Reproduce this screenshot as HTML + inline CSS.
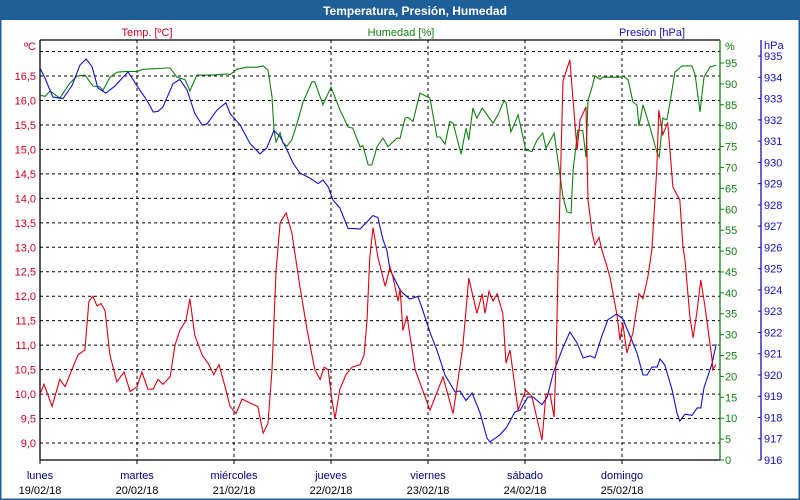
<!DOCTYPE html>
<html><head><meta charset="utf-8"><style>
body{margin:0;background:#fff}
svg{display:block;font-family:"Liberation Sans",sans-serif}
</style></head><body>
<svg id="chart" width="800" height="500" xmlns="http://www.w3.org/2000/svg">
<rect x="0" y="0" width="800" height="500" fill="#fff"/>
<rect x="0" y="0" width="800" height="20" fill="#1f5f99"/>
<rect x="0.5" y="0.5" width="799" height="499" fill="none" stroke="#1f5f99" stroke-width="2"/>
<text x="415" y="15" text-anchor="middle" font-size="12" font-weight="bold" fill="#fff">Temperatura, Presión, Humedad</text>
<text x="147" y="36" text-anchor="middle" font-size="11" fill="#d00020">Temp. [ºC]</text>
<text x="401" y="36" text-anchor="middle" font-size="11" fill="#108010">Humedad [%]</text>
<text x="652" y="36" text-anchor="middle" font-size="11" fill="#1010c0">Presión [hPa]</text>
<g id="grid"></g><g id="axes"></g><g id="series"></g>
</svg>
<script>
const tempHours=[0,1,3,4.9,6.2,7.9,9.4,11.1,12.1,13.1,14.1,15.1,16.1,17.3,19,20.8,22.3,24,25.2,26.7,28,29.2,30.4,32.2,33.4,34.6,36.1,37.1,38.3,40.1,41.8,43,44.3,45.8,47,48.5,50,52.4,53.9,55.2,56.4,57.4,58.4,59.4,60.9,62.3,64.3,66.1,68,69.3,70.3,71.3,72.2,73,74.2,75.7,77.2,79.2,80.2,80.9,81.6,82.4,83.6,85.4,86.6,87.3,88.6,89.1,89.8,90.8,92.8,96.5,99.7,102.2,104.6,106.1,108.1,109.4,110.1,111.1,112.1,113.1,114.5,115.3,116.3,118.3,120.2,121.7,124.2,125.2,126.2,127.2,127.7,128.2,129.4,131.1,131.9,132.9,133.6,135.1,135.6,136.6,137.3,138.3,139,140.3,141,142.8,143.5,144.2,145.2,146.7,148.2,149.2,150.4,151.4,152.6,153.1,154.1,155.3,156.6,158.3,159.1,159.6,160.8,161.6,162.6,163.5,164.5,166.3,166.5,167.2];
const tempValues=[10,10.2,9.75,10.3,10.15,10.5,10.8,10.9,11.9,12,11.8,11.85,11.7,10.8,10.25,10.45,10.05,10.15,10.45,10.1,10.1,10.3,10.2,10.35,11,11.3,11.5,11.95,11.2,10.8,10.6,10.4,10.6,10.15,9.75,9.6,9.9,9.8,9.75,9.2,9.4,10.5,12.5,13.5,13.7,13.3,12.2,11.3,10.5,10.3,10.55,10.5,9.9,9.5,10.1,10.4,10.55,10.6,10.8,11.5,12.8,13.4,12.8,12.2,12.6,12.4,11.9,12.15,11.3,11.6,10.5,9.67,10.35,9.6,10.97,12.37,11.65,12.05,11.65,12.1,11.9,12.05,11.65,10.63,10.9,9.67,10.08,9.95,9.06,10,10,9.53,10.7,12.6,16.4,16.83,16,14.99,15.6,15.87,13.97,13.3,13.05,13.2,12.95,12.6,12.4,11.6,11.1,11.45,10.84,11.25,12.05,11.95,12.4,12.95,14.6,15.8,15.3,15.55,14.23,13.97,13,12.74,11.58,11.15,11.72,12.33,11.8,10.7,10.5,10.6];
const humHours=[0,1.2,2.5,4.9,7.4,9.2,11.1,13.1,14.8,15.6,17.3,19.1,21.5,24,25.5,31.4,32.2,33.9,35.9,37.1,38.8,42.8,46.3,47,48.7,51.2,53.7,55.2,56.4,57.4,57.9,58.4,59.4,60.1,61.1,62.3,63.6,65.1,67.3,68,70,72,74.2,76.2,77.4,79.2,79.9,81.2,82.1,83.4,84.9,86.1,88.3,89.1,90.3,91.1,92.3,94,96.5,98.2,99,100.2,101.4,102.2,104.2,105.4,106.1,107.1,108.1,109.4,112.1,113.3,114.8,115.3,116.5,118.3,120.2,121.7,123,124.4,125.2,127.2,127.9,129.4,130.4,131.4,131.9,133.1,134.3,135.1,135.6,136.6,137.3,138.6,139.3,143.5,144.2,145.5,146.7,147.7,148.2,149.2,150.9,152.7,153.2,154.1,155.1,155.9,157.1,158.8,161.3,162.1,163.3,164.3,165.8,167.3];
const humValues=[87.3,87,88.3,86.6,90.2,91.9,92.1,89.5,89.3,88.5,91.6,92.8,93,93,93.5,93.8,93.8,91.6,91,88.3,92.1,92.1,92.4,92.2,93.5,94,94,94.3,93.3,86.9,79,76.1,78.3,75.9,75.1,76.6,80.6,85.7,90.5,90.5,85,89.2,83.8,79.7,79.4,74.9,75.2,70.6,70.6,75,77,75,77,77,81.8,82,81,87.8,86.6,77.3,77.3,75.6,81,80.6,73.2,79.4,76.6,84.2,81.8,84.2,80.6,82.6,86,85.5,78.5,82.6,74.2,73.8,76.6,78.2,74.6,78.2,73.4,62.9,59.4,59.1,69.4,79,78.8,72.5,86.1,89.3,91.9,91.1,91.6,91.6,91.9,91,85.7,84.9,79.9,85,79.7,73.4,72.5,81.8,81.4,85.7,92.8,94.3,94.3,92.1,83.3,91.6,94.1,94.5];
const presHours=[0,1.2,3.2,5.7,7.9,9.9,11.4,12.9,14.3,16.3,18.6,20.5,21.8,24,26.5,28,29.2,30.4,32.9,34.6,36.4,38.3,40.1,41.3,43.8,46,47,49.5,51.9,54.4,56.1,57.9,59.4,61.1,62.6,64.3,66.8,68.8,70,71.3,72.5,74.2,76.2,79.2,80.9,82.4,83.6,84.9,85.8,86.6,89.1,89.8,91.5,93.5,94.7,96.5,98.2,100.2,102.7,103.9,105.4,106.9,108.9,110.6,111.3,113.8,115.5,117.5,118.8,120.7,122,124.2,125.5,127,129.4,131.1,132.9,134.4,136.1,137.3,139,140.5,142.7,144.2,146,147.7,149.2,150.2,151.4,152.7,153.4,154.6,156.4,157.6,158.3,159.6,161.3,162.6,163.5,164.3,166.3,167.3];
const presValues=[934.44,933.97,933.07,933,933.6,934.58,934.86,934.5,933.5,933.26,933.6,934,934.25,933.6,932.9,932.37,932.4,932.6,933.7,933.9,933.4,932.3,931.76,931.8,932.46,932.8,932.3,931.76,930.9,930.4,930.67,931.5,931.2,930.6,929.97,929.5,929.26,929,929.17,928.85,928.23,927.85,926.9,926.87,927.2,927.5,927.4,926.35,925.88,924.94,924,923.85,923.57,923.7,923.05,922,921.17,920,919.2,919.25,918.8,919.15,918.2,917.03,916.85,917.18,917.55,918.26,918.35,918.96,918.96,918.6,918.96,920.1,921.3,922.02,921.5,920.8,920.9,920.8,921.83,922.6,922.87,922.63,921.83,921.03,920,920,920.37,920.37,920.75,920.47,919.3,918.2,917.83,918.16,918.1,918.45,918.45,919.4,920.55,921.45];
const dayNames=["lunes","martes","miércoles","jueves","viernes","sábado","domingo"];
const dayDates=["19/02/18","20/02/18","21/02/18","22/02/18","23/02/18","24/02/18","25/02/18"];
const tempTicks=["9,0","9,5","10,0","10,5","11,0","11,5","12,0","12,5","13,0","13,5","14,0","14,5","15,0","15,5","16,0","16,5"];
const humTicks=[0,5,10,15,20,25,30,35,40,45,50,55,60,65,70,75,80,85,90,95];
const presTicks=[916,917,918,919,920,921,922,923,924,925,926,927,928,929,930,931,932,933,934,935];

const NS="http://www.w3.org/2000/svg";
const X0=40,X1=720,Y0=40,Y1=460;
const xs=h=>X0+h*97/24;
const yT=t=>443-(t-9)*48.93;
const yH=v=>460-v*4.179;
const yP=p=>460-(p-916)*21.26;
function mk(tag,attrs,parent){const e=document.createElementNS(NS,tag);for(const k in attrs)e.setAttribute(k,attrs[k]);parent.appendChild(e);return e;}
const grid=document.getElementById('grid'),axes=document.getElementById('axes'),series=document.getElementById('series');

for(let t=9;t<=17.001;t+=0.5){
  const l=mk('line',{x1:X0,x2:X1,y1:yT(t),y2:yT(t),stroke:'#000','stroke-dasharray':'3,3','stroke-width':1},grid);
  
  
}
for(let d=1;d<7;d++){
  const l=mk('line',{x1:xs(d*24),x2:xs(d*24),y1:Y0,y2:Y1,stroke:'#000','stroke-dasharray':'3,3','stroke-width':1},grid);
  
  
}
// frame lines
[[X0,Y0,X1,Y0,'#000'],[X0,Y1,X1,Y1,'#000'],[X0,Y0,X0,Y1,'#000'],[X1,Y0,X1,Y1,'#108010'],[761,40,761,Y1,'#1010c0']].forEach(a=>{
  const l=mk('line',{x1:a[0],y1:a[1],x2:a[2],y2:a[3],stroke:a[4],'stroke-width':1.3},axes);
  
  
});
tempTicks.forEach((s,i)=>{
  const t=mk('text',{x:36,y:yT(9+i*0.5)+4,'text-anchor':'end','font-size':11,fill:'#d00020'},axes);t.textContent=s;
  
  
});
const cu=mk('text',{x:36,y:50,'text-anchor':'end','font-size':11,fill:'#d00020'},axes);cu.textContent='ºC';


humTicks.forEach(v=>{
  const y=yH(v);
  const k=mk('line',{x1:X1,x2:X1+4,y1:y,y2:y,stroke:'#108010'},axes);
  
  
  const t=mk('text',{x:725,y:y+4,'font-size':11,fill:'#108010'},axes);t.textContent=v;
  
  
});
const hu=mk('text',{x:725,y:50,'font-size':11,fill:'#108010'},axes);hu.textContent='%';


presTicks.forEach(v=>{
  const y=yP(v);
  const k=mk('line',{x1:758,x2:761,y1:y,y2:y,stroke:'#1010c0'},axes);
  
  
  const t=mk('text',{x:764,y:y+4,'font-size':11,fill:'#1010c0'},axes);t.textContent=v;
  
  
});
const pu=mk('text',{x:764,y:49,'font-size':11,fill:'#1010c0'},axes);pu.textContent='hPa';


dayNames.forEach((n,i)=>{
  const x=xs(i*24);
  const k=mk('line',{x1:x,x2:x,y1:Y1,y2:Y1+4,stroke:'#000'},axes);
  
  
  const a=mk('text',{x:x,y:479,'text-anchor':'middle','font-size':11,fill:'#000080'},axes);a.textContent=n;
  
  
  const b=mk('text',{x:x,y:494,'text-anchor':'middle','font-size':11,fill:'#000'},axes);b.textContent=dayDates[i];
  
  
});
function line(hours,vals,yf,color,name){
  const pts=hours.map((h,i)=>xs(h).toFixed(1)+','+yf(vals[i]).toFixed(1)).join(' ');
  const p=mk('polyline',{points:pts,fill:'none',stroke:color,'stroke-width':1.1},series);
  
  
}
line(humHours,humValues,yH,'#108010','humidity-line');
line(presHours,presValues,yP,'#1010d0','pressure-line');
line(tempHours,tempValues,yT,'#dd0010','temperature-line');
</script>
</body></html>
